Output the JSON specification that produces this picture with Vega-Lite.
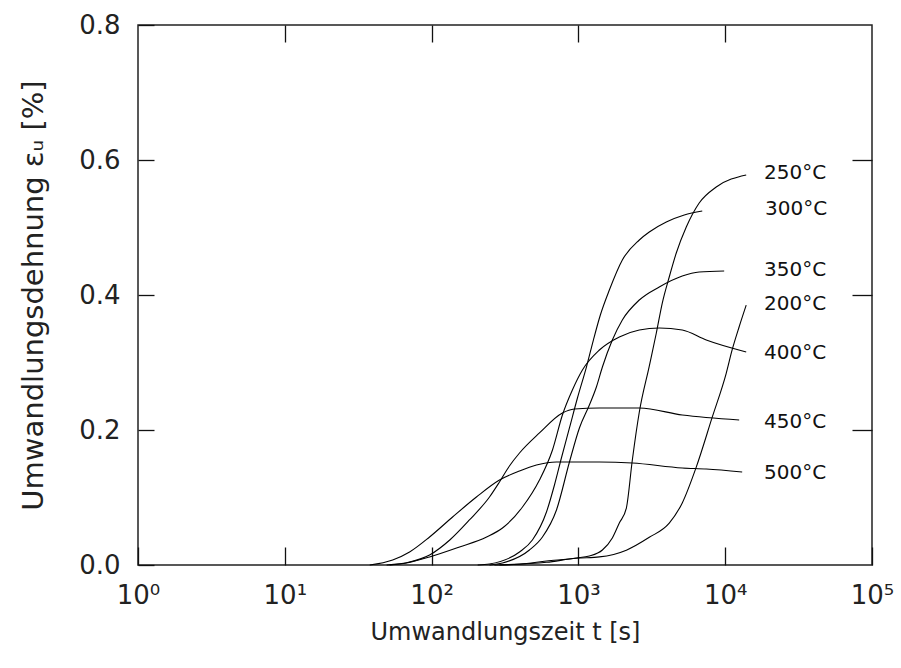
{
  "$schema": "https://vega.github.io/schema/vega-lite/v6.json",
  "autosize": "none",
  "width": 734,
  "height": 540,
  "padding": {"left": 138, "top": 25, "right": 29, "bottom": 103},
  "background": "white",
  "config": {
    "view": {"stroke": "#222", "strokeWidth": 1.5},
    "font": "DejaVu Sans",
    "axis": {"grid": false, "domain": false, "tickColor": "#111", "tickWidth": 1.3, "labelColor": "#222", "titleColor": "#222", "labelFont": "DejaVu Sans", "titleFont": "DejaVu Sans", "titleFontWeight": "normal"}
  },
  "datasets": {
    "curves": [
      {"T": "500", "t": 37.9, "eps": 0.0},
      {"T": "500", "t": 54.3, "eps": 0.0074},
      {"T": "500", "t": 70.8, "eps": 0.0193},
      {"T": "500", "t": 96.9, "eps": 0.0415},
      {"T": "500", "t": 139, "eps": 0.0711},
      {"T": "500", "t": 202, "eps": 0.1007},
      {"T": "500", "t": 290, "eps": 0.1259},
      {"T": "500", "t": 397, "eps": 0.1393},
      {"T": "500", "t": 518, "eps": 0.1481},
      {"T": "500", "t": 709, "eps": 0.1526},
      {"T": "500", "t": 1390, "eps": 0.1526},
      {"T": "500", "t": 2330, "eps": 0.1511},
      {"T": "500", "t": 5100, "eps": 0.1437},
      {"T": "500", "t": 7430, "eps": 0.1422},
      {"T": "500", "t": 13050, "eps": 0.1378},
      {"T": "450", "t": 49.4, "eps": 0.0},
      {"T": "450", "t": 70.8, "eps": 0.0044},
      {"T": "450", "t": 96.9, "eps": 0.0148},
      {"T": "450", "t": 133, "eps": 0.037},
      {"T": "450", "t": 181, "eps": 0.0667},
      {"T": "450", "t": 248, "eps": 0.1007},
      {"T": "450", "t": 290, "eps": 0.123},
      {"T": "450", "t": 339, "eps": 0.1467},
      {"T": "450", "t": 397, "eps": 0.1659},
      {"T": "450", "t": 543, "eps": 0.1956},
      {"T": "450", "t": 778, "eps": 0.2252},
      {"T": "450", "t": 939, "eps": 0.2311},
      {"T": "450", "t": 1390, "eps": 0.2326},
      {"T": "450", "t": 2600, "eps": 0.2326},
      {"T": "450", "t": 5100, "eps": 0.2222},
      {"T": "450", "t": 12450, "eps": 0.2148},
      {"T": "400", "t": 51.8, "eps": 0.0},
      {"T": "400", "t": 67.6, "eps": 0.003},
      {"T": "400", "t": 96.9, "eps": 0.0119},
      {"T": "400", "t": 155, "eps": 0.0267},
      {"T": "400", "t": 237, "eps": 0.0415},
      {"T": "400", "t": 304, "eps": 0.0548},
      {"T": "400", "t": 416, "eps": 0.0859},
      {"T": "400", "t": 543, "eps": 0.1259},
      {"T": "400", "t": 666, "eps": 0.1704},
      {"T": "400", "t": 778, "eps": 0.2222},
      {"T": "400", "t": 910, "eps": 0.2593},
      {"T": "400", "t": 1065, "eps": 0.2889},
      {"T": "400", "t": 1390, "eps": 0.3185},
      {"T": "400", "t": 1900, "eps": 0.3378},
      {"T": "400", "t": 2600, "eps": 0.3481},
      {"T": "400", "t": 3556, "eps": 0.3511},
      {"T": "400", "t": 5100, "eps": 0.3481},
      {"T": "400", "t": 7430, "eps": 0.3333},
      {"T": "400", "t": 13900, "eps": 0.3156},
      {"T": "350", "t": 248, "eps": 0.0},
      {"T": "350", "t": 304, "eps": 0.003},
      {"T": "350", "t": 464, "eps": 0.0222},
      {"T": "350", "t": 569, "eps": 0.0415},
      {"T": "350", "t": 709, "eps": 0.0815},
      {"T": "350", "t": 869, "eps": 0.1526},
      {"T": "350", "t": 1016, "eps": 0.203},
      {"T": "350", "t": 1188, "eps": 0.237},
      {"T": "350", "t": 1326, "eps": 0.2637},
      {"T": "350", "t": 1457, "eps": 0.2933},
      {"T": "350", "t": 1703, "eps": 0.3333},
      {"T": "350", "t": 1992, "eps": 0.363},
      {"T": "350", "t": 2600, "eps": 0.3926},
      {"T": "350", "t": 3556, "eps": 0.4119},
      {"T": "350", "t": 5100, "eps": 0.4281},
      {"T": "350", "t": 6650, "eps": 0.4341},
      {"T": "350", "t": 9840, "eps": 0.4356},
      {"T": "300", "t": 206, "eps": 0.0},
      {"T": "300", "t": 248, "eps": 0.0015},
      {"T": "300", "t": 397, "eps": 0.0193},
      {"T": "300", "t": 486, "eps": 0.037},
      {"T": "300", "t": 606, "eps": 0.0785},
      {"T": "300", "t": 687, "eps": 0.1185},
      {"T": "300", "t": 766, "eps": 0.1585},
      {"T": "300", "t": 869, "eps": 0.203},
      {"T": "300", "t": 985, "eps": 0.2474},
      {"T": "300", "t": 1134, "eps": 0.2933},
      {"T": "300", "t": 1265, "eps": 0.3333},
      {"T": "300", "t": 1411, "eps": 0.3704},
      {"T": "300", "t": 1625, "eps": 0.4074},
      {"T": "300", "t": 1992, "eps": 0.4519},
      {"T": "300", "t": 2600, "eps": 0.4815},
      {"T": "300", "t": 3040, "eps": 0.4933},
      {"T": "300", "t": 3970, "eps": 0.5081},
      {"T": "300", "t": 5262, "eps": 0.5185},
      {"T": "300", "t": 6975, "eps": 0.5244},
      {"T": "250", "t": 268, "eps": 0.0},
      {"T": "250", "t": 397, "eps": 0.0015},
      {"T": "250", "t": 606, "eps": 0.0059},
      {"T": "250", "t": 969, "eps": 0.0104},
      {"T": "250", "t": 1188, "eps": 0.0133},
      {"T": "250", "t": 1457, "eps": 0.0222},
      {"T": "250", "t": 1703, "eps": 0.04},
      {"T": "250", "t": 1900, "eps": 0.0622},
      {"T": "250", "t": 2122, "eps": 0.0844},
      {"T": "250", "t": 2330, "eps": 0.1556},
      {"T": "250", "t": 2600, "eps": 0.2267},
      {"T": "250", "t": 3040, "eps": 0.2948},
      {"T": "250", "t": 3395, "eps": 0.3437},
      {"T": "250", "t": 3727, "eps": 0.3881},
      {"T": "250", "t": 4157, "eps": 0.4267},
      {"T": "250", "t": 4642, "eps": 0.4622},
      {"T": "250", "t": 5431, "eps": 0.5007},
      {"T": "250", "t": 6650, "eps": 0.5363},
      {"T": "250", "t": 8690, "eps": 0.56},
      {"T": "250", "t": 13900, "eps": 0.5778},
      {"T": "200", "t": 290, "eps": 0.0},
      {"T": "200", "t": 606, "eps": 0.004},
      {"T": "200", "t": 969, "eps": 0.01},
      {"T": "200", "t": 1390, "eps": 0.012},
      {"T": "200", "t": 2122, "eps": 0.022},
      {"T": "200", "t": 3040, "eps": 0.041},
      {"T": "200", "t": 4157, "eps": 0.062},
      {"T": "200", "t": 5100, "eps": 0.092},
      {"T": "200", "t": 6350, "eps": 0.145},
      {"T": "200", "t": 8160, "eps": 0.219},
      {"T": "200", "t": 10160, "eps": 0.284},
      {"T": "200", "t": 11160, "eps": 0.319},
      {"T": "200", "t": 12450, "eps": 0.353},
      {"T": "200", "t": 13900, "eps": 0.385}
    ],
    "labels": [
      {"label": "250°C", "t": 18400, "eps": 0.581},
      {"label": "300°C", "t": 18700, "eps": 0.527},
      {"label": "350°C", "t": 18400, "eps": 0.437},
      {"label": "200°C", "t": 18400, "eps": 0.387},
      {"label": "400°C", "t": 18400, "eps": 0.314},
      {"label": "450°C", "t": 18400, "eps": 0.212},
      {"label": "500°C", "t": 18400, "eps": 0.136}
    ]
  },
  "resolve": {"axis": {"x": "independent", "y": "independent"}},
  "layer": [
    {
      "data": {"name": "curves"},
      "mark": {"type": "line", "color": "#000", "strokeWidth": 1.1, "interpolate": "monotone"},
      "encoding": {
        "detail": {"field": "T"},
        "x": {
          "field": "t", "type": "quantitative",
          "scale": {"type": "log", "domain": [1, 100000]},
          "axis": {
            "orient": "bottom", "values": [1, 10, 100, 1000, 10000, 100000],
            "tickSize": -18, "labelPadding": 35, "labelFontSize": 26,
            "labelExpr": "'10' + ['⁰','¹','²','³','⁴','⁵'][round(log(datum.value)/LN10)]",
            "labelFlush": false, "labelOverlap": false,
            "title": "Umwandlungszeit t [s]", "titleFontSize": 24, "titlePadding": 12
          }
        },
        "y": {
          "field": "eps", "type": "quantitative",
          "scale": {"domain": [0, 0.8]},
          "axis": {
            "orient": "left", "values": [0, 0.2, 0.4, 0.6, 0.8], "format": ".1f",
            "tickSize": -16, "labelPadding": 34, "labelFontSize": 26,
            "title": "Umwandlungsdehnung εᵤ [%]", "titleFontSize": 29, "titlePadding": 30
          }
        }
      }
    },
    {
      "data": {"name": "labels"},
      "mark": {"type": "text", "align": "left", "baseline": "middle", "fontSize": 20, "color": "#111", "font": "DejaVu Sans"},
      "encoding": {
        "text": {"field": "label"},
        "x": {
          "field": "t", "type": "quantitative",
          "axis": {"orient": "top", "values": [10, 100, 1000, 10000], "tickSize": -17, "labels": false, "title": null}
        },
        "y": {
          "field": "eps", "type": "quantitative",
          "axis": {"orient": "right", "values": [0.2, 0.4, 0.6], "tickSize": -20, "labels": false, "title": null}
        }
      }
    }
  ]
}
